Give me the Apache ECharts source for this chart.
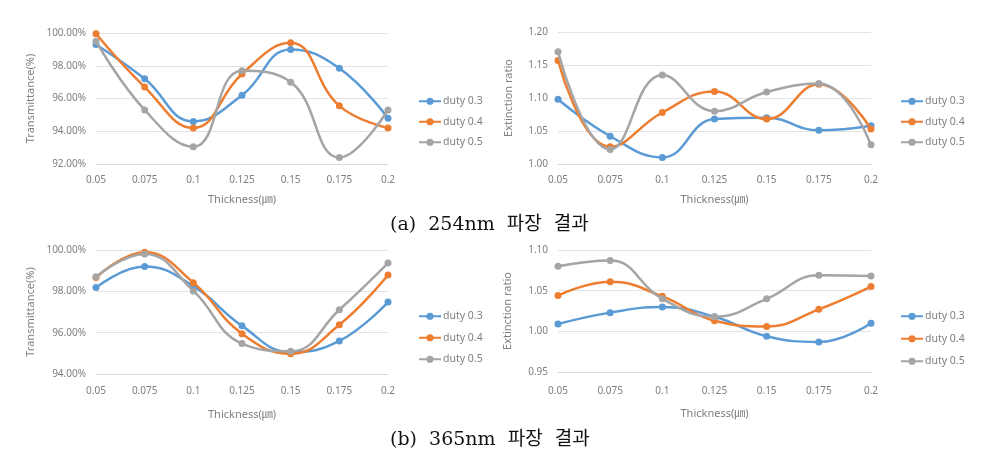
<!DOCTYPE html>
<html>
<head>
<meta charset="utf-8">
<script src="https://cdn.jsdelivr.net/npm/echarts@6/dist/echarts.min.js"></script>
<style>
html,body{margin:0;padding:0;background:#fff;}
#chart{width:999px;height:466px;}
</style>
</head>
<body>
<div id="chart"></div>
<script>
// ---- data ----
const thickness = ['0.05', '0.075', '0.1', '0.125', '0.15', '0.175', '0.2'];
const seriesNames = ['duty 0.3', 'duty 0.4', 'duty 0.5'];

// (a) 254nm - Transmittance (%)
const trans254_d03 = [99.3, 97.2, 94.6, 96.2, 99.0, 97.85, 94.8];
const trans254_d04 = [99.95, 96.7, 94.2, 97.5, 99.4, 95.55, 94.2];
const trans254_d05 = [99.5, 95.3, 93.05, 97.7, 97.0, 92.4, 95.3];

// (a) 254nm - Extinction ratio
const ext254_d03 = [1.098, 1.042, 1.010, 1.068, 1.070, 1.051, 1.058];
const ext254_d04 = [1.157, 1.026, 1.078, 1.110, 1.068, 1.121, 1.053];
const ext254_d05 = [1.170, 1.022, 1.135, 1.080, 1.109, 1.122, 1.029];

// (b) 365nm - Transmittance (%)
const trans365_d03 = [98.18, 99.2, 98.25, 96.33, 95.06, 95.6, 97.48];
const trans365_d04 = [98.67, 99.89, 98.42, 95.95, 94.98, 96.38, 98.79];
const trans365_d05 = [98.71, 99.81, 98.02, 95.47, 95.1, 97.11, 99.37];

// (b) 365nm - Extinction ratio
const ext365_d03 = [1.009, 1.023, 1.030, 1.018, 0.994, 0.987, 1.010];
const ext365_d04 = [1.044, 1.061, 1.043, 1.013, 1.006, 1.027, 1.055];
const ext365_d05 = [1.080, 1.087, 1.040, 1.018, 1.040, 1.069, 1.068];

const xTitle = 'Thickness(㎛)';
const yTitleT = 'Transmittance(%)';
const yTitleE = 'Extinction ratio';
const captionA = '(a)  254nm  파장  결과';
const captionB = '(b)  365nm  파장  결과';

// ---- styling ----
const colors = ['#5B9BD5', '#ED7D31', '#A5A5A5'];
const txt = '#7f7f7f';
const font = "'Noto Sans', 'Noto Sans CJK KR', sans-serif";

const grids = [
  {left: 96, top: 33, width: 292, height: 131},
  {left: 558, top: 32, width: 313, height: 132},
  {left: 96, top: 250, width: 292, height: 124},
  {left: 558, top: 250, width: 313, height: 122}
];
const yCfg = [
  {min: 92, max: 100, interval: 2, pct: true, name: yTitleT, gap: 60},
  {min: 1.0, max: 1.2, interval: 0.05, pct: false, name: yTitleE, gap: 44},
  {min: 94, max: 100, interval: 2, pct: true, name: yTitleT, gap: 60},
  {min: 0.95, max: 1.10, interval: 0.05, pct: false, name: yTitleE, gap: 45}
];
const xGaps = [30, 30, 35, 36];
const xMargins = [11, 11, 12, 14];
const dataSets = [
  [trans254_d03, trans254_d04, trans254_d05],
  [ext254_d03, ext254_d04, ext254_d05],
  [trans365_d03, trans365_d04, trans365_d05],
  [ext365_d03, ext365_d04, ext365_d05]
];
const legendPos = [
  {left: 413, top: 91, gap: 10},
  {left: 895, top: 91, gap: 10},
  {left: 413, top: 306, gap: 11},
  {left: 895, top: 306, gap: 12}
];

const xAxis = grids.map((g, i) => ({
  type: 'category', gridIndex: i, data: thickness, boundaryGap: false,
  axisLine: {lineStyle: {color: '#d9d9d9'}},
  axisTick: {show: false},
  axisLabel: {color: txt, fontSize: 10, fontFamily: font, margin: xMargins[i]},
  name: xTitle, nameLocation: 'middle', nameGap: xGaps[i],
  nameTextStyle: {color: txt, fontSize: 11, fontFamily: font}
}));
const yAxis = yCfg.map((c, i) => ({
  type: 'value', gridIndex: i, min: c.min, max: c.max, interval: c.interval,
  axisLine: {show: false}, axisTick: {show: false},
  splitLine: {lineStyle: {color: '#e3e3e3'}},
  axisLabel: {color: txt, fontSize: 10, fontFamily: font, margin: 10,
    formatter: v => c.pct ? v.toFixed(2) + '%' : v.toFixed(2)},
  name: c.name, nameLocation: 'middle', nameRotate: 90, nameGap: c.gap,
  nameTextStyle: {color: txt, fontSize: 11, fontFamily: font}
}));
const series = [];
dataSets.forEach((set, gi) => {
  set.forEach((vals, si) => {
    series.push({
      type: 'line', name: seriesNames[si], xAxisIndex: gi, yAxisIndex: gi,
      data: vals, smooth: 0.45, symbol: 'circle', symbolSize: 7,
      lineStyle: {width: 2.5, color: colors[si]},
      itemStyle: {color: colors[si]},
      z: 2 + si
    });
  });
});
const legend = legendPos.map(p => ({
  orient: 'vertical', left: p.left, top: p.top, itemGap: p.gap,
  itemWidth: 22, itemHeight: 9, data: seriesNames,
  textStyle: {color: txt, fontSize: 10.5, fontFamily: font, padding: [0, 0, 0, -3]},
  selectedMode: false
}));

const chart = echarts.init(document.getElementById('chart'), null, {renderer: 'canvas'});
chart.setOption({
  animation: false,
  color: colors,
  grid: grids,
  xAxis: xAxis,
  yAxis: yAxis,
  legend: legend,
  series: series,
  graphic: [
    {type: 'text', left: 390, top: 216, style: {text: captionA, fill: '#111',
      font: "19px 'DejaVu Serif', 'Noto Sans CJK KR', serif"}},
    {type: 'text', left: 390, top: 431, style: {text: captionB, fill: '#111',
      font: "19px 'DejaVu Serif', 'Noto Sans CJK KR', serif"}}
  ]
});
</script>
</body>
</html>
